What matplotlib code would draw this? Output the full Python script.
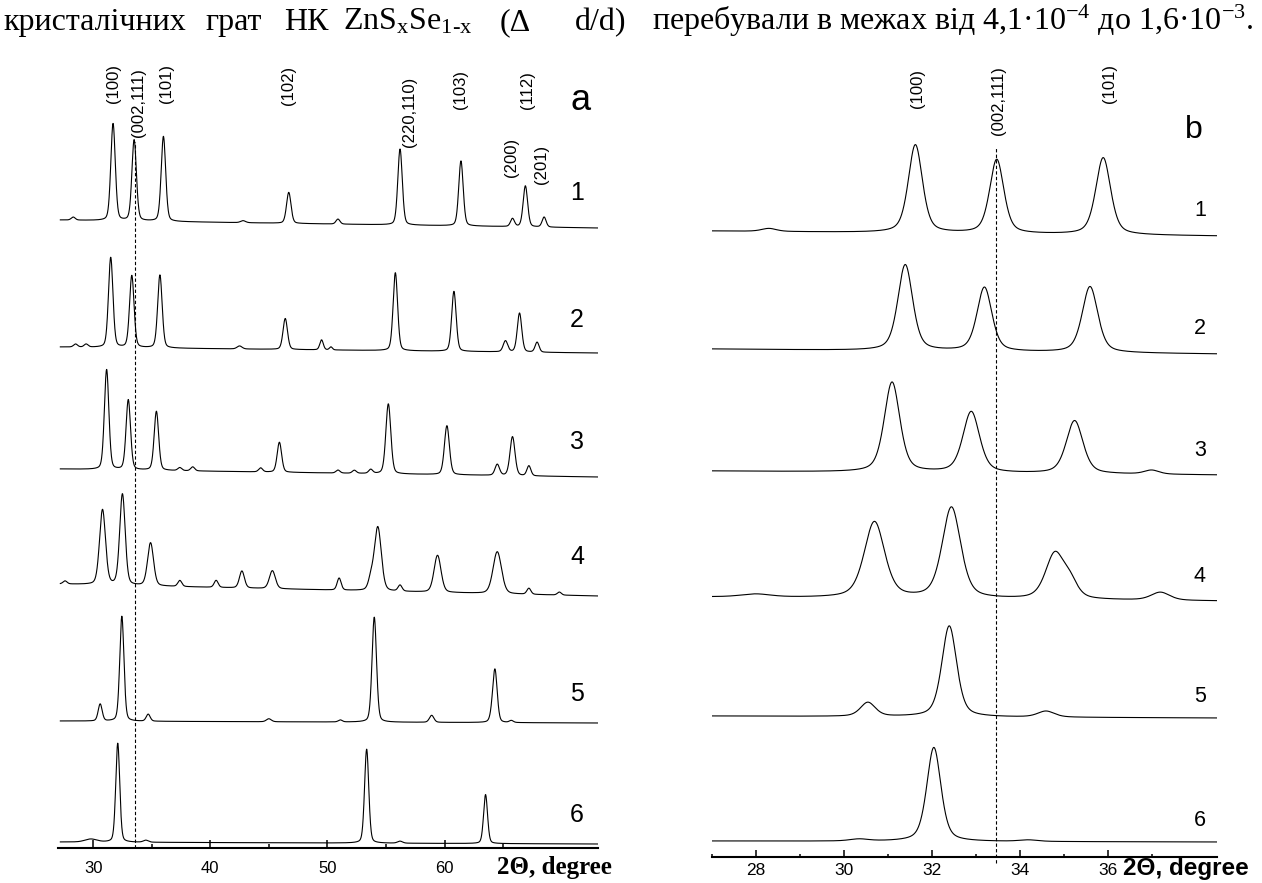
import numpy as np
import matplotlib
matplotlib.use("Agg")
import matplotlib.pyplot as plt

plt.rcParams["font.family"] = ["Liberation Sans", "DejaVu Sans"]
plt.rcParams["mathtext.fontset"] = "custom"
plt.rcParams["mathtext.rm"] = "Liberation Serif"
plt.rcParams["mathtext.it"] = "Liberation Serif:italic"

# ---- panel a: ZnSxSe1-x wide scan, peaks as (2theta, height, fwhm) ----
a_labels = ["1", "2", "3", "4", "5", "6"]
a_base_left = [628, 501, 379, 264, 127, 6]
a_base_right = [620, 495, 371, 252, 125, 4]

a1_peaks = [(28.3, 3, 0.4), (31.7, 97, 0.45), (33.5, 81, 0.45), (36.0, 85, 0.45),
            (42.8, 2, 0.5), (46.7, 31, 0.45), (50.9, 5, 0.4), (56.2, 76, 0.45),
            (61.4, 65, 0.45), (65.8, 8, 0.4), (66.9, 41, 0.45), (68.5, 10, 0.4)]
a2_peaks = [(28.5, 3, 0.4), (29.4, 3, 0.4), (31.5, 90, 0.45), (33.3, 72, 0.45),
            (35.7, 73, 0.45), (42.5, 3, 0.5), (46.4, 31, 0.45), (49.5, 10, 0.35),
            (50.3, 3, 0.3), (55.8, 78, 0.45), (60.8, 60, 0.45), (65.2, 11, 0.45),
            (66.4, 39, 0.45), (67.9, 10, 0.4)]
a3_peaks = [(31.15, 100, 0.45), (33.0, 70, 0.45), (35.4, 59, 0.45), (37.4, 3, 0.4),
            (38.5, 4, 0.4), (44.3, 4, 0.4), (45.9, 30, 0.45), (50.9, 3, 0.4),
            (52.3, 3, 0.4), (53.7, 4, 0.4), (55.2, 70, 0.5), (60.2, 49, 0.5),
            (64.5, 11, 0.45), (65.8, 39, 0.5), (67.2, 10, 0.4)]
a4_peaks = [(27.6, 3, 0.4), (30.8, 75, 0.6), (32.5, 91, 0.55), (34.9, 43, 0.6),
            (37.4, 6, 0.4), (40.5, 7, 0.4), (42.7, 17, 0.5), (45.3, 18, 0.6),
            (51.0, 12, 0.4), (53.7, 10, 0.5), (54.3, 64, 0.7), (56.2, 6, 0.4),
            (59.4, 37, 0.7), (64.5, 42, 0.85), (67.2, 6, 0.4), (69.8, 3, 0.4)]
a5_peaks = [(30.6, 17, 0.4), (32.45, 105, 0.42), (34.7, 7, 0.4), (45.0, 3, 0.5),
            (51.1, 2, 0.4), (54.0, 105, 0.45), (58.9, 7, 0.45), (64.0, 3, 0.4),
            (64.3, 53, 0.45), (65.7, 2, 0.4)]
a6_peaks = [(29.8, 3, 1.2), (32.1, 99, 0.4), (34.5, 2, 0.5), (53.35, 94, 0.42),
            (56.2, 2, 0.5), (63.5, 49, 0.4)]
a_peaks = [a1_peaks, a2_peaks, a3_peaks, a4_peaks, a5_peaks, a6_peaks]

a_hkl = ["(100)", "(002,111)", "(101)", "(102)", "(220,110)", "(103)", "(112)", "(200)", "(201)"]
a_hkl_x = [31.7, 33.9, 36.3, 46.7, 57.0, 61.4, 67.1, 65.7, 68.3]
a_hkl_y = [745, 711, 745, 743, 701, 739, 739, 671, 664]

# ---- panel b: zoom on the first three reflections ----
b_labels = ["1", "2", "3", "4", "5", "6"]
b_base_left = [626, 508, 386, 260, 141, 16]
b_base_right = [621, 503, 382, 256, 139, 15]

b1_peaks = [(28.3, 3, 0.4), (31.63, 88, 0.38), (33.48, 74, 0.38), (35.9, 77, 0.4)]
b2_peaks = [(31.4, 86, 0.4), (33.2, 64, 0.4), (35.6, 66, 0.42)]
b3_peaks = [(31.1, 90, 0.42), (32.9, 61, 0.45), (35.25, 53, 0.45), (37.0, 4, 0.4)]
b4_peaks = [(28.0, 3, 0.8), (30.7, 76, 0.55), (32.45, 91, 0.5), (34.8, 45, 0.5),
            (35.15, 15, 0.4), (37.2, 8, 0.5)]
b5_peaks = [(30.55, 14, 0.4), (32.4, 91, 0.4), (34.6, 6, 0.45)]
b6_peaks = [(30.35, 2, 0.5), (32.05, 94, 0.38), (34.2, 1.5, 0.5)]
b_peaks = [b1_peaks, b2_peaks, b3_peaks, b4_peaks, b5_peaks, b6_peaks]

b_hkl = ["(100)", "(002,111)", "(101)"]
b_hkl_x = [31.67, 33.53, 36.04]
b_hkl_y = [749, 722, 754]

dash_a = 33.55
dash_b = 33.47


def profile(x, peaks, left, right, eta=0.35):
    y = np.linspace(left, right, len(x))
    for c, h, w in peaks:
        t = (x - c) / w
        y = y + h * (eta / (1 + 4 * t ** 2) + (1 - eta) * np.exp(-4 * np.log(2) * t ** 2))
    return y


W, H = 1262, 883
fig = plt.figure(figsize=(W / 100, H / 100), dpi=100)


def px_axes(l, r, top, bottom):
    return fig.add_axes([l / W, 1 - bottom / H, (r - l) / W, (bottom - top) / H])


def style_axis(ax, major, minor, size, pad, mlen, nlen):
    for s in ["left", "right", "top"]:
        ax.spines[s].set_visible(False)
    ax.spines["bottom"].set_linewidth(1.5)
    ax.set_yticks([])
    ax.set_xticks(major)
    ax.set_xticks(minor, minor=True)
    ax.tick_params(axis="x", which="major", direction="in", length=mlen, width=1.1,
                   labelsize=size, pad=pad)
    ax.tick_params(axis="x", which="minor", direction="in", length=nlen, width=1.1)
    ax.patch.set_alpha(0)


# panel a
ax_a = px_axes(58, 598, 50, 848)
ax_a.set_xlim(27, 73.1)
ax_a.set_ylim(0, 798)
xa = np.linspace(27.2, 73.1, 3000)
for pk, l, r in zip(a_peaks, a_base_left, a_base_right):
    ax_a.plot(xa, profile(xa, pk, l, r, eta=0.25), color="black", lw=0.8)
for lab, l in zip(a_labels, a_base_left):
    ax_a.text(71.3, l + 27, lab, fontsize=18, ha="center", va="center")
for s, x, y in zip(a_hkl, a_hkl_x, a_hkl_y):
    ax_a.text(x, y, s, rotation=90, fontsize=12, ha="center", va="bottom")
ax_a.plot([dash_a, dash_a], [0, 706], color="black", lw=0.8, ls=(0, (3, 2)))
ax_a.text(71.6, 748, "a", fontsize=26, ha="center", va="center")
style_axis(ax_a, [30, 40, 50, 60], [35, 45, 55, 65], 12, 9.5, 6, 3)

# panel b
ax_b = px_axes(711.7, 1216.7, 50, 857)
ax_b.set_xlim(27, 38.48)
ax_b.set_ylim(0, 807)
xb = np.linspace(27, 38.48, 3000)
for pk, l, r in zip(b_peaks, b_base_left, b_base_right):
    ax_b.plot(xb, profile(xb, pk, l, r, eta=0.45), color="black", lw=0.8)
for lab, l in zip(b_labels, b_base_left):
    ax_b.text(38.1, l + 20, lab, fontsize=15.5, ha="center", va="center")
for s, x, y in zip(b_hkl, b_hkl_x, b_hkl_y):
    ax_b.text(x, y, s, rotation=90, fontsize=12, ha="center", va="bottom")
ax_b.plot([dash_b, dash_b], [-6, 710], color="black", lw=0.8, ls=(0, (3, 2)),
          clip_on=False)
ax_b.text(37.95, 727, "b", fontsize=23, ha="center", va="center")
style_axis(ax_b, [28, 30, 32, 34, 36], [27, 29, 31, 33, 35, 37], 12.5, 4.5, 5, 2.5)

# axis titles
fig.text(497 / W, 1 - 874 / H, "2Θ, degree", family="Liberation Serif",
         fontweight="bold", fontsize=18, va="baseline")
fig.text(1123 / W, 1 - 875 / H, "2Θ, degree", family="Liberation Sans",
         fontweight="bold", fontsize=17.5, va="baseline")

# caption line from the paper
cap_parts = ["кристалічних", "грат", "НК", "ZnS$_\\mathrm{x}$Se$_\\text{1-x}$", "(Δ", "d/d)",
             "перебували в межах від 4,1·10$^{-4}$ до 1,6·10$^{-3}$."]
cap_x = [3, 205, 284, 343, 500, 575, 652]
for s, x in zip(cap_parts, cap_x):
    fig.text(x / W, 1 - 30 / H, s, family="Liberation Serif", fontsize=23,
             va="baseline")

fig.savefig("out.png", dpi=100)
